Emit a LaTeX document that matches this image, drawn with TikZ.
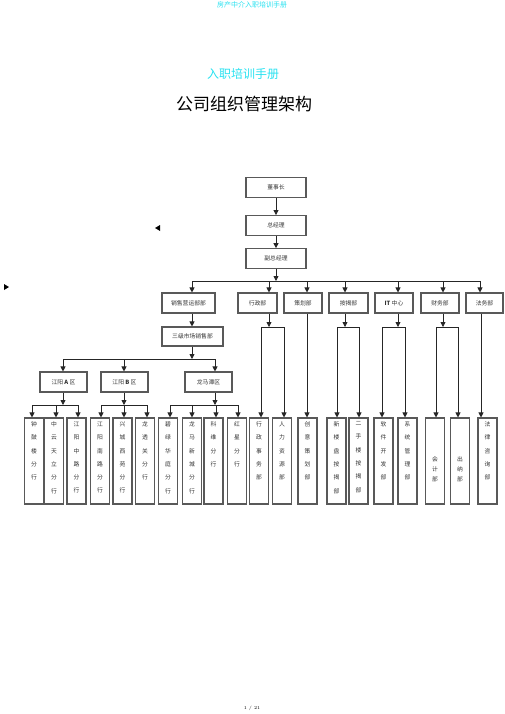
\documentclass[tikz,border=0pt]{standalone}
\usepackage{fontspec}
\newfontfamily\cjk{Noto Sans CJK SC}
\usepackage{tikz}
\usetikzlibrary{positioning,arrows.meta}
\definecolor{hdcyan}{RGB}{40,225,240}

\begin{document}
\begin{tikzpicture}[x=1pt,y=-1pt,
	box/.style={draw=black!65, line width=1.1pt, minimum height=20pt, inner sep=0pt, font=\cjk\fontsize{5.8}{7}\selectfont, text=black!80},
	col/.style={draw=black!65, line width=1.1pt, minimum width=19pt, minimum height=86pt, inner sep=0pt},
	vtxt/.style={inner sep=0pt, align=center, font=\cjk\fontsize{5.8}{13.3}\selectfont, text=black!80},
	vtxtb/.style={vtxt, font=\cjk\fontsize{5.8}{10}\selectfont},
	ln/.style={draw=black!85, line width=0.8pt},
	arr/.style={ln, -{Triangle[length=5pt,width=5pt]}}]
	\useasboundingbox (0,0) rectangle (505,714);
	
	\node[font=\cjk\fontsize{7}{8}\selectfont, text=hdcyan] (hd) at (252,5) {房产中介入职培训手册};
	\node[font=\cjk\fontsize{12}{14}\selectfont, text=hdcyan] (sub) at (243,74) {入职培训手册};
	\node[font=\cjk\fontsize{17}{20}\selectfont] (ttl) at (244,104) {公司组织管理架构};
	\node[font=\fontsize{4.5}{5}\selectfont] (pg) at (252,708) {1 / 21};
	
	\fill (155,228) -- (160,225) -- (160,231) -- cycle;
	\fill (4,284) -- (9,287) -- (4,290) -- cycle;
	
	\node[box, minimum width=60pt] (dsz) at (276,187.5) {董事长};
	\node[box, minimum width=60pt, below=17pt of dsz] (zjl) {总经理};
	\node[box, minimum width=60pt, below=12pt of zjl] (fzjl) {副总经理};
	
	\node[box, minimum width=53pt] (xs) at (188.5,303) {销售营运部部};
	\node[box, minimum width=39pt] (xz) at (257.5,303) {行政部};
	\node[box, minimum width=38pt] (ch) at (303,303) {策划部};
	\node[box, minimum width=39pt] (aj) at (348.5,303) {按揭部};
	\node[box, minimum width=38pt] (it) at (394,303) {\textbf{IT} 中心};
	\node[box, minimum width=38pt] (cw) at (440,303) {财务部};
	\node[box, minimum width=37pt] (fw) at (484.5,303) {法务部};
	
	\node[box, minimum width=61pt, minimum height=19pt] (sj) at (192.5,336.5) {三级市场销售部};
	
	\node[box, minimum width=47pt] (qa) at (63.5,382) {江阳 \textbf{A} 区};
	\node[box, minimum width=47pt] (qb) at (124.5,382) {江阳 \textbf{B} 区};
	\node[box, minimum width=47pt] (lm) at (208.5,382) {龙马潭区};
	
	\foreach \i/\x/\t in {1/34/{钟\\鼓\\楼\\分\\行}, 2/54/{中\\云\\天\\立\\分\\行}, 3/76.5/{江\\阳\\中\\路\\分\\行},
		4/100/{江\\阳\\南\\路\\分\\行}, 5/122.5/{兴\\城\\西\\苑\\分\\行}, 6/145/{龙\\透\\关\\分\\行},
		7/168/{碧\\绿\\华\\庭\\分\\行}, 8/192/{龙\\马\\新\\城\\分\\行}, 9/213.5/{科\\维\\分\\行},
		10/237/{红\\星\\分\\行}, 11/259/{行\\政\\事\\务\\部}, 12/282/{人\\力\\资\\源\\部},
		13/307.5/{创\\意\\策\\划\\部}, 14/336.5/{新\\楼\\盘\\按\\揭\\部}, 15/358.5/{二\\手\\楼\\按\\揭\\部},
		16/383.5/{软\\件\\开\\发\\部}, 17/407.5/{系\\统\\管\\理\\部}, 20/487.5/{法\\律\\咨\\询\\部}} {
		\node[col] (c\i) at (\x,461) {};
		\node[vtxt, anchor=north] (t\i) at ([yshift=-4pt]c\i.north) {\t};
	}
	\node[col] (c18) at (435,461) {};
	\node[vtxtb] (t18) at ([yshift=-8pt]c18.center) {会\\计\\部};
	\node[col] (c19) at (460,461) {};
	\node[vtxtb] (t19) at ([yshift=-8pt]c19.center) {出\\纳\\部};
	
	\draw[arr] (dsz) -- (zjl);
	\draw[arr] (zjl) -- (fzjl);
	\draw[arr] (fzjl) -- (276,281);
	\draw[ln] (192,281) -- (480,281);
	\foreach \x/\n in {192/xs, 269/xz, 307/ch, 345/aj, 398/it, 443/cw, 480/fw}
		\draw[arr] (\x,281) -- (\x,281 |- \n.north);
	
	\draw[arr] (192,0 |- xs.south) -- (192,0 |- sj.north);
	\draw[arr] (192,0 |- sj.south) -- (192,359);
	\draw[ln] (63,359) -- (215,359);
	\foreach \x/\n in {63/qa, 124/qb, 215/lm}
		\draw[arr] (\x,359) -- (\x,359 |- \n.north);
	
	\draw[arr] (63,0 |- qa.south) -- (63,405);
	\draw[arr] (124,0 |- qb.south) -- (124,405);
	\draw[arr] (215,0 |- lm.south) -- (215,405);
	\draw[ln] (32,405) -- (78,405);
	\draw[ln] (101,405) -- (147,405);
	\draw[ln] (170,405) -- (238,405);
	
	\foreach \x/\n in {269/xz, 345/aj, 398/it, 443/cw}
		\draw[arr] (\x,0 |- \n.south) -- (\x,327);
	\draw[ln] (261,327) -- (284,327);
	\draw[ln] (337,327) -- (359,327);
	\draw[ln] (382,327) -- (405,327);
	\draw[ln] (436,327) -- (458,327);
	
	\foreach \x/\y/\n in {32/405/c1, 56/405/c2, 78/405/c3, 101/405/c4, 124/405/c5, 147/405/c6,
		170/405/c7, 192/405/c8, 216/405/c9, 238/405/c10, 261/327/c11, 284/327/c12,
		337/327/c14, 359/327/c15, 382/327/c16, 405/327/c17, 436/327/c18, 458/327/c19}
		\draw[arr] (\x,\y) -- (\x,\y |- \n.north);
	\draw[arr] (307,0 |- ch.south) -- (307,0 |- c13.north);
	\draw[arr] (481,0 |- fw.south) -- (481,0 |- c20.north);
\end{tikzpicture}
\end{document}
